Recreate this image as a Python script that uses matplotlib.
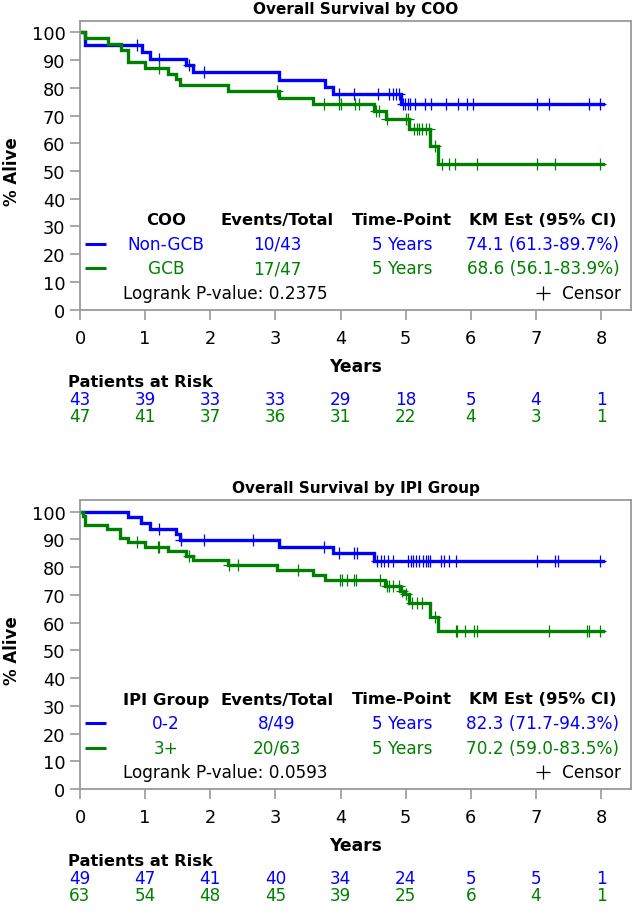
import numpy as np
import matplotlib
matplotlib.use('Agg')
import matplotlib.pyplot as plt
from matplotlib.transforms import blended_transform_factory

plt.rcParams['font.family'] = ['DejaVu Sans']

BLUE = '#0000ff'
GREEN = '#008000'
FRAME = '#9a9a9a'

# --- Overall Survival by COO ---
coo_groups = ['Non-GCB', 'GCB']
coo_events = ['10/43', '17/47']
coo_km = ['74.1 (61.3-89.7%)', '68.6 (56.1-83.9%)']
coo_pval = '0.2375'

ngcb_t = [0, 0.08, 0.95, 1.07, 1.62, 1.73, 3.06, 3.76, 3.89, 4.93]
ngcb_s = [100, 95.3, 92.9, 90.5, 88.1, 85.6, 82.9, 80.3, 77.7, 74.1]
ngcb_cens = [0.87, 1.21, 1.68, 1.90, 3.97, 4.20, 4.58, 4.75, 4.80, 4.85, 4.90,
             4.96, 4.99, 5.03, 5.07, 5.15, 5.30, 5.39, 5.62, 5.80, 5.94, 6.04,
             7.02, 7.20, 7.81, 7.99]

gcb_t = [0, 0.07, 0.43, 0.63, 0.73, 1.0, 1.35, 1.48, 1.54, 2.28, 3.06, 3.57,
         4.51, 4.70, 5.05, 5.38, 5.50]
gcb_s = [100, 97.9, 95.7, 93.6, 89.4, 87.2, 85.1, 83.0, 80.9, 78.7, 76.5, 74.2,
         71.7, 68.6, 65.2, 59.0, 52.5]
gcb_cens = [1.22, 3.03, 3.75, 3.97, 4.01, 4.23, 4.29, 4.54, 4.59, 4.72, 5.00,
            5.04, 5.13, 5.17, 5.21, 5.25, 5.31, 5.36, 5.45, 5.56, 5.66, 5.76,
            6.10, 7.02, 7.30, 7.99]

ngcb_risk = [43, 39, 33, 33, 29, 18, 5, 4, 1]
gcb_risk = [47, 41, 37, 36, 31, 22, 4, 3, 1]

# --- Overall Survival by IPI Group ---
ipi_groups = ['0-2', '3+']
ipi_events = ['8/49', '20/63']
ipi_km = ['82.3 (71.7-94.3%)', '70.2 (59.0-83.5%)']
ipi_pval = '0.0593'

low_t = [0, 0.73, 0.94, 1.07, 1.48, 1.53, 3.06, 3.89, 4.51]
low_s = [100, 98.0, 95.9, 93.9, 91.8, 89.6, 87.4, 85.1, 82.3]
low_cens = [1.21, 1.55, 1.90, 2.66, 3.75, 3.97, 4.20, 4.26, 4.56, 4.62, 4.67,
            4.73, 4.81, 5.03, 5.08, 5.12, 5.16, 5.20, 5.27, 5.31, 5.35, 5.38,
            5.54, 5.59, 5.67, 5.78, 7.02, 7.30, 7.34, 7.99]

high_t = [0, 0.04, 0.08, 0.42, 0.61, 0.73, 1.0, 1.35, 1.63, 1.73, 2.28, 3.03,
          3.57, 3.76, 4.69, 4.92, 4.98, 5.05, 5.38, 5.50]
high_s = [100, 98.4, 95.2, 93.6, 90.5, 88.9, 87.3, 85.7, 84.0, 82.4, 80.7, 78.9,
          77.1, 75.2, 73.1, 71.5, 70.2, 66.9, 62.1, 56.8]
high_cens = [0.87, 1.19, 1.22, 1.68, 2.29, 2.43, 3.34, 3.99, 4.02, 4.10, 4.20,
             4.24, 4.60, 4.71, 4.74, 4.81, 4.90, 4.94, 5.01, 5.10, 5.17, 5.25,
             5.45, 5.77, 5.79, 5.91, 6.05, 6.09, 7.20, 7.79, 7.81, 7.99]

low_risk = [49, 47, 41, 40, 34, 24, 5, 5, 1]
high_risk = [63, 54, 48, 45, 39, 25, 6, 4, 1]

years = list(range(9))
END = 8.03

W, H = 633, 920
fig = plt.figure(figsize=(W / 100, H / 100), dpi=100)


def fy(py):
    return 1 - py / H


def km_curve(ax, t, s, cens, color):
    t = np.array(t)
    s = np.array(s)
    ax.step(np.append(t, END), np.append(s, s[-1]), where='post',
            color=color, lw=2.4, solid_joinstyle='miter')
    c = np.array(cens)
    cy = s[np.searchsorted(t, c, side='right') - 1]
    ax.plot(c, cy, ls='none', marker='+', ms=9, mew=0.9, color=color)


def panel(top, title, head, groups, events, km, pval, curves, risks):
    bottom = top + 289
    ax = fig.add_axes([80 / W, fy(bottom), 551 / W, 289 / H])
    for t, s, cens, col in curves:
        km_curve(ax, t, s, cens, col)
    ax.set_xlim(0, 8.46)
    ax.set_ylim(0, 104.2)
    ax.set_xticks(years)
    ax.set_yticks(range(0, 101, 10))
    ax.tick_params(colors=FRAME, labelcolor='black', labelsize=12.8,
                   length=7, width=1.2, direction='out')
    ax.tick_params(axis='x', pad=7)
    for sp in ax.spines.values():
        sp.set_color(FRAME)
        sp.set_linewidth(1.3)

    fig.text(355.5 / W, fy(top - 12), title, ha='center', va='center',
             fontsize=11, fontweight='bold')
    fig.text(12 / W, fy(top + 150), '% Alive', rotation=90, ha='center',
             va='center', fontsize=12, fontweight='bold')
    fig.text(355.5 / W, fy(bottom + 56), 'Years', ha='center', va='center',
             fontsize=12.3, fontweight='bold')

    # legend table inside the plot
    cols = [166, 277, 402, 543]
    ty = lambda py: (bottom - py) / 289
    tx = lambda px: (px - 80) / 551
    hdr = [head, 'Events/Total', 'Time-Point', 'KM Est (95% CI)']
    for x, h in zip(cols, hdr):
        ax.text(tx(x), ty(bottom - 90), h, transform=ax.transAxes,
                ha='center', va='center', fontsize=11.8, fontweight='bold')
    colors = [BLUE, GREEN]
    for i in range(2):
        yy = ty(bottom - 66 + 24.5 * i)
        ax.plot([tx(85), tx(106)], [yy, yy], transform=ax.transAxes,
                color=colors[i], lw=2.2, solid_capstyle='butt')
        vals = [groups[i], events[i], '5 Years', km[i]]
        for x, v in zip(cols, vals):
            ax.text(tx(x), yy, v, transform=ax.transAxes, ha='center',
                    va='center', fontsize=12.2, color=colors[i])
    yy = ty(bottom - 17)
    ax.text(tx(123), yy, 'Logrank P-value: ' + pval, transform=ax.transAxes,
            ha='left', va='center', fontsize=12.2)
    ax.plot([tx(543)], [yy], transform=ax.transAxes, marker='+', ms=10,
            mew=0.9, color='black')
    ax.text(tx(562), yy, 'Censor', transform=ax.transAxes, ha='left',
            va='center', fontsize=12.2)

    # patients at risk
    tr = blended_transform_factory(ax.transData, fig.transFigure)
    fig.text(68 / W, fy(bottom + 72), 'Patients at Risk', ha='left',
             va='center', fontsize=11.7, fontweight='bold')
    for j, (r, col) in enumerate(zip(risks, colors)):
        for x, n in zip(years, r):
            ax.text(x, fy(bottom + 89 + 17.5 * j), str(n), transform=tr,
                    ha='center', va='center', fontsize=12.2, color=col)
    return ax


panel(21.7, 'Overall Survival by COO', 'COO', coo_groups, coo_events, coo_km,
      coo_pval,
      [(ngcb_t, ngcb_s, ngcb_cens, BLUE), (gcb_t, gcb_s, gcb_cens, GREEN)],
      [ngcb_risk, gcb_risk])
panel(501, 'Overall Survival by IPI Group', 'IPI Group', ipi_groups,
      ipi_events, ipi_km, ipi_pval,
      [(low_t, low_s, low_cens, BLUE), (high_t, high_s, high_cens, GREEN)],
      [low_risk, high_risk])

fig.savefig('out.png', dpi=100)
